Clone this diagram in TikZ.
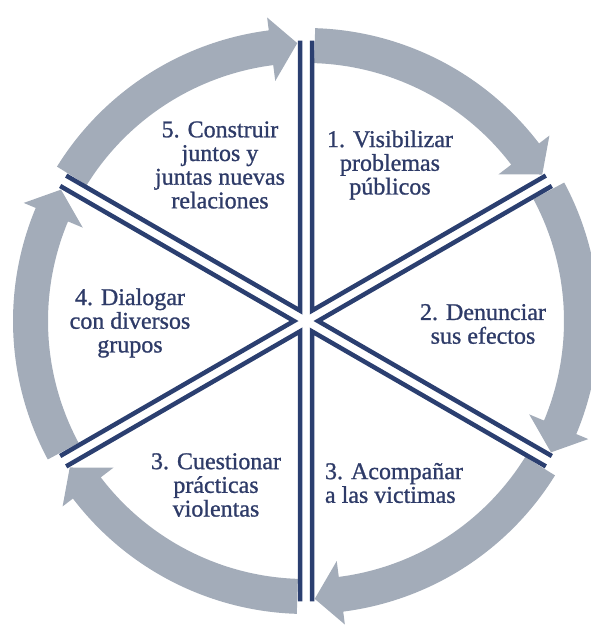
\documentclass[tikz,border=0pt]{standalone}
\usepackage{fontspec}
\setmainfont{Liberation Serif}[FakeBold=1.0]

\definecolor{ringgray}{HTML}{A3ACB9}
\definecolor{spokeblue}{HTML}{2B3F70}
\definecolor{textblue}{HTML}{2E3B68}

\tikzset{
	ringarrow/.style={fill=ringgray},
	spoke/.style={draw=spokeblue, line width=4.5pt, line join=miter},
	steptext/.style={text=textblue, font=\fontsize{24}{23.7}\selectfont, align=center, inner sep=0pt}
}

\begin{document}
\begin{tikzpicture}
		\useasboundingbox (-306pt,-308pt) rectangle (285pt,321pt);
		% gray ring, clockwise
		\fill[ringarrow] (148.2:293pt) arc[start angle=148.2, end angle=97.3, radius=293pt] -- (97.3:306pt) -- (91.8:278pt) -- (97.3:242pt) -- (97.3:258pt) arc[start angle=97.3, end angle=148.2, radius=258pt] -- cycle;
		\fill[ringarrow] (88.2:293pt) arc[start angle=88.2, end angle=37.3, radius=293pt] -- (37.3:306pt) -- (31.8:278pt) -- (37.3:242pt) -- (37.3:258pt) arc[start angle=37.3, end angle=88.2, radius=258pt] -- cycle;
		\fill[ringarrow] (28.2:293pt) arc[start angle=28.2, end angle=-22.7, radius=293pt] -- (-22.7:306pt) -- (-28.2:278pt) -- (-22.7:242pt) -- (-22.7:258pt) arc[start angle=-22.7, end angle=28.2, radius=258pt] -- cycle;
		\fill[ringarrow] (-31.8:293pt) arc[start angle=-31.8, end angle=-82.7, radius=293pt] -- (-82.7:306pt) -- (-88.2:278pt) -- (-82.7:242pt) -- (-82.7:258pt) arc[start angle=-82.7, end angle=-31.8, radius=258pt] -- cycle;
		\fill[ringarrow] (-91.8:293pt) arc[start angle=-91.8, end angle=-142.7, radius=293pt] -- (-142.7:306pt) -- (-148.2:278pt) -- (-142.7:242pt) -- (-142.7:258pt) arc[start angle=-142.7, end angle=-91.8, radius=258pt] -- cycle;
		\fill[ringarrow] (-151.8:293pt) arc[start angle=-151.8, end angle=-202.7, radius=293pt] -- (-202.7:306pt) -- (-208.2:278pt) -- (-202.7:242pt) -- (-202.7:258pt) arc[start angle=-202.7, end angle=-151.8, radius=258pt] -- cycle;
		% double spokes
		\draw[spoke] ([shift={(60:12pt)}]90:270pt) -- (60:12pt) -- ([shift={(60:12pt)}]30:270pt);
		\draw[spoke] ([shift={(0:12pt)}]30:270pt) -- (0:12pt) -- ([shift={(0:12pt)}]-30:270pt);
		\draw[spoke] ([shift={(-60:12pt)}]-30:270pt) -- (-60:12pt) -- ([shift={(-60:12pt)}]-90:270pt);
		\draw[spoke] ([shift={(-120:12pt)}]-90:270pt) -- (-120:12pt) -- ([shift={(-120:12pt)}]-150:270pt);
		\draw[spoke] ([shift={(180:12pt)}]-150:270pt) -- (180:12pt) -- ([shift={(180:12pt)}]150:270pt);
		\draw[spoke] ([shift={(120:12pt)}]150:270pt) -- (120:12pt) -- ([shift={(120:12pt)}]90:270pt);
		% labels
		\node[steptext] (visibilizar) at (84pt,156pt) {1. Visibilizar\\problemas\\públicos};
		\node[steptext] (denunciar) at (177pt,-3pt) {2. Denunciar\\sus efectos};
		\node[steptext, align=left] (acompanar) at (88pt,-162pt) {3. Acompañar\\a las victimas};
		\node[steptext] (cuestionar) at (-90pt,-164pt) {3. Cuestionar\\prácticas\\violentas};
		\node[steptext] (dialogar) at (-176pt,-2pt) {4. Dialogar\\con diversos\\grupos};
		\node[steptext] (construir) at (-86pt,156pt) {5. Construir\\juntos y\\juntas nuevas\\relaciones};
	\end{tikzpicture}
\end{document}
